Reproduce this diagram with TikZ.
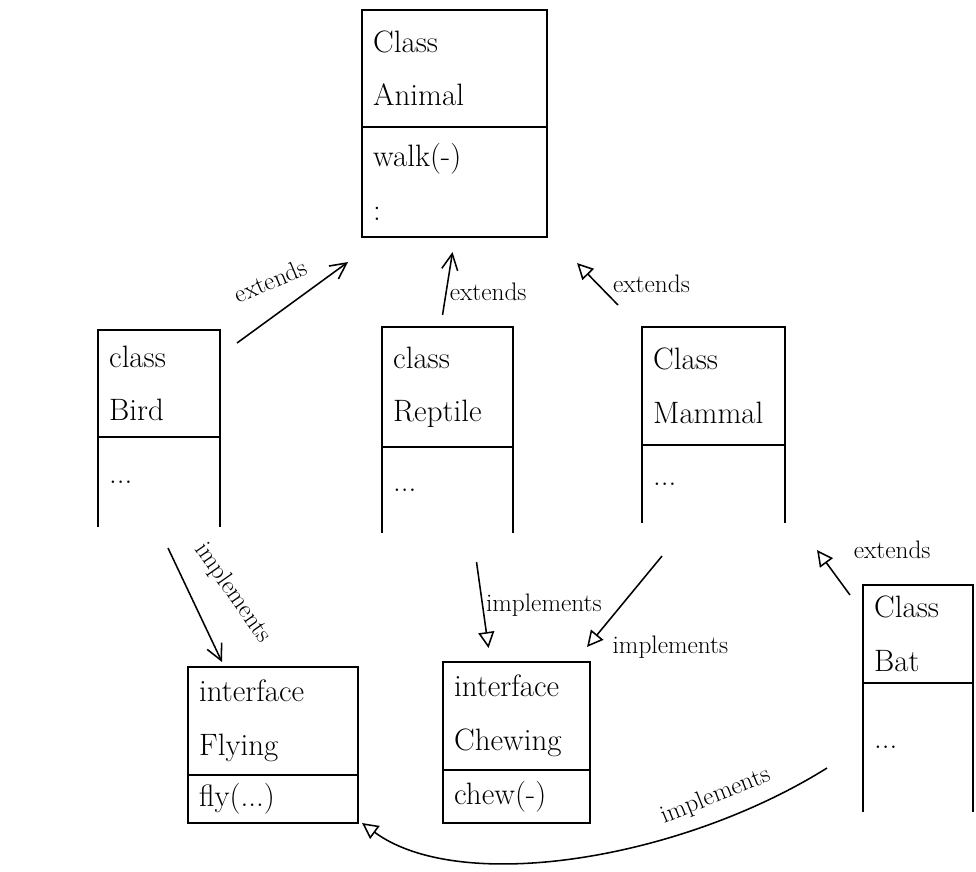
\documentclass[tikz,border=0pt]{standalone}
\usepackage{fontspec}
\usepackage{tikz}
\usetikzlibrary{arrows.meta, positioning}

\begin{document}
\begin{tikzpicture}[
    x=0.025cm, y=-0.025cm,
    every node/.style={font=\fontsize{22}{38}\selectfont},
    headpart/.style 2 args={draw, line width=1.2pt, anchor=north west, inner xsep=0.28cm, inner ysep=0pt, outer sep=0pt, text width=#1, minimum height=#2, align=left},
    bodypart/.style 2 args={draw, line width=1.2pt, inner xsep=0.28cm, inner ysep=0pt, outer sep=0pt, text width=#1, minimum height=#2, align=left},
    sidesonly/.style={draw=none},
    lbl/.style={font=\fontsize{18}{20}\selectfont, inner sep=2pt},
    sub/.style={-{Straight Barb[length=4mm, width=4mm]}, line width=1.1pt},
    real/.style={-{Triangle[open, length=4mm, width=4mm]}, line width=1.1pt}
]
\useasboundingbox (0,0) rectangle (976,872);

% Animal
\node[headpart={4.065cm}{2.925cm}] (animal) at (362,10) {Class\\Animal};
\node[bodypart={4.065cm}{2.75cm}, below=0pt of animal] (animal-ops) {walk(-)\\:};

% subclasses
\node[headpart={2.49cm}{2.675cm}] (bird) at (98,330) {class\\Bird};
\node[bodypart={2.49cm}{2.25cm}, sidesonly, below=0pt of bird] (bird-ops) {...};

\node[headpart={2.715cm}{3.0cm}] (reptile) at (382,327) {class\\Reptile};
\node[bodypart={2.715cm}{2.15cm}, sidesonly, below=0pt of reptile] (reptile-ops) {...};

\node[headpart={3.015cm}{2.95cm}] (mammal) at (642,327) {Class\\Mammal};
\node[bodypart={3.015cm}{1.95cm}, sidesonly, below=0pt of mammal] (mammal-ops) {...};

\node[headpart={2.19cm}{2.45cm}] (bat) at (863,585) {Class\\Bat};
\node[bodypart={2.19cm}{3.225cm}, sidesonly, below=0pt of bat] (bat-ops) {...};

\foreach \c in {bird,reptile,mammal,bat}
    \draw[line width=1.2pt] (\c-ops.south west) -- (\c-ops.north west) (\c-ops.north east) -- (\c-ops.south east);

% interfaces
\node[headpart={3.69cm}{2.7cm}] (flying) at (188,667) {interface\\Flying};
\node[bodypart={3.69cm}{1.2cm}, below=0pt of flying] (flying-ops) {fly(...)};

\node[headpart={3.115cm}{2.7cm}] (chewing) at (443,662) {interface\\Chewing};
\node[bodypart={3.115cm}{1.325cm}, below=0pt of chewing] (chewing-ops) {chew(-)};

% extends
\draw[sub] ([shift={(17,13)}]bird.north east) -- node[lbl, xshift=-0.55cm, yshift=0.55cm, rotate=23] {extends} ([shift={(-14,25)}]animal-ops.south west);
\draw[sub] ([shift={(-5,-12)}]reptile.north) -- node[lbl, pos=0.37, anchor=west] {extends} ([shift={(-2,15)}]animal-ops.south);
\draw[real] ([shift={(-24,-22)}]mammal.north west) -- node[lbl, anchor=west, xshift=0.3cm] {extends} ([shift={(30,26)}]animal-ops.south east);
\draw[real] ([shift={(-13,10)}]bat.north west) -- node[lbl, at end, anchor=west, xshift=0.83cm] {extends} ([shift={(32,27)}]mammal-ops.south east);

% implements
\draw[sub] ([shift={(9,21)}]bird-ops.south) -- node[lbl, xshift=0.95cm, yshift=0.3cm, rotate=-55] {implements} ([shift={(34,-5)}]flying.north west);
\draw[real] ([shift={(29,29)}]reptile-ops.south) -- node[lbl, anchor=west] {implements} ([shift={(-28,-14)}]chewing.north);
\draw[real] ([shift={(20,33)}]mammal-ops.south west) -- node[lbl, at end, anchor=west, xshift=0.55cm] {implements} ([shift={(-3,-15)}]chewing.north east);
\draw[real] ([shift={(-36,85)}]bat-ops.north west) .. controls (680,860) and (460,895) .. node[lbl, pos=0.22, anchor=south, yshift=0.25cm, rotate=22] {implements} ([shift={(4,0)}]flying-ops.south east);

\end{tikzpicture}
\end{document}
